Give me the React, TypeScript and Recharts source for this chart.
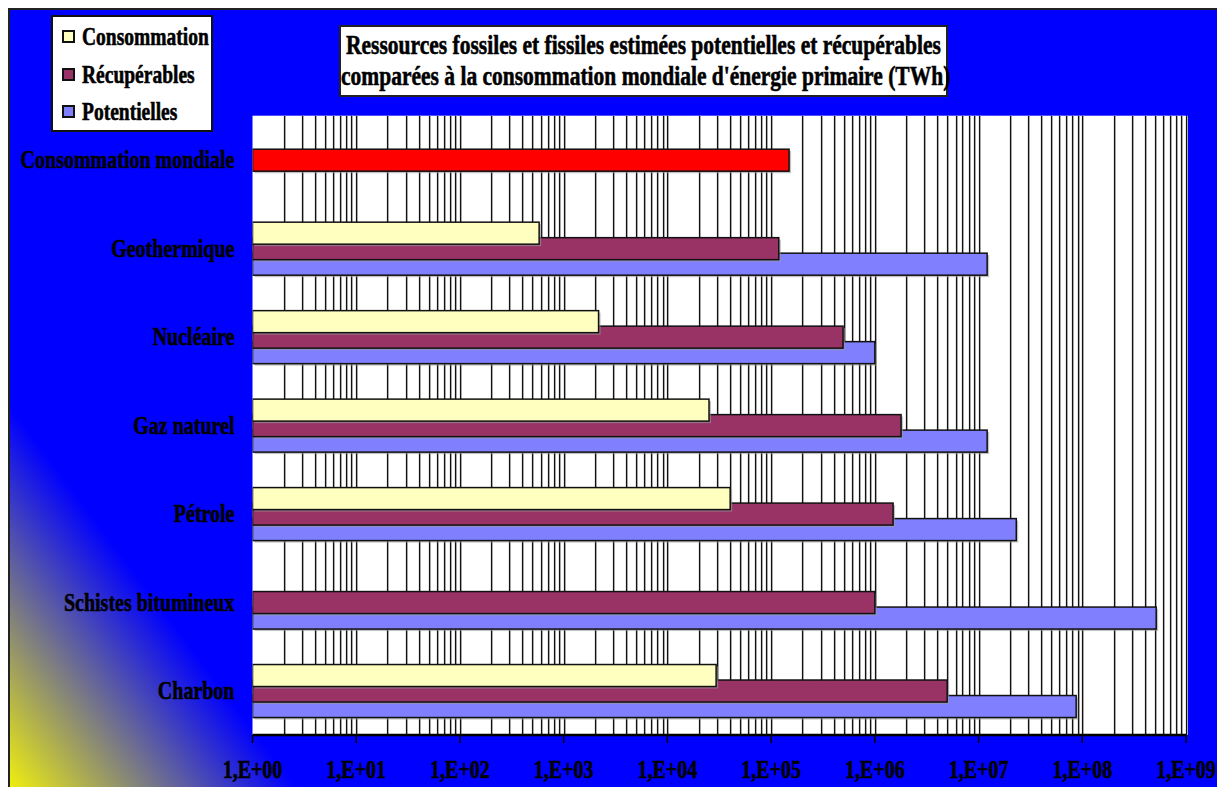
import { BarChart, Bar, XAxis, YAxis, CartesianGrid, Cell, Legend } from "recharts";

// TWh, top to bottom
const categories = [
  "Consommation mondiale",
  "Geothermique",
  "Nucléaire",
  "Gaz naturel",
  "Pétrole",
  "Schistes bitumineux",
  "Charbon",
];
const consommation = [null, 580, 2170, 25200, 40300, null, 29500];
const recuperables = [149000, 118600, 494000, 1790000, 1500000, 1000000, 4980000];
const potentielles = [null, 12100000, 1000000, 12100000, 23100000, 516000000, 87300000];

const seriesNames = ["Consommation", "Récupérables", "Potentielles"];

const decadeTicks = [1, 1e1, 1e2, 1e3, 1e4, 1e5, 1e6, 1e7, 1e8, 1e9];
const decadeLabels = [
  "1,E+00", "1,E+01", "1,E+02", "1,E+03", "1,E+04",
  "1,E+05", "1,E+06", "1,E+07", "1,E+08", "1,E+09",
];
const categoryEdges = [0, 1, 2, 3, 4, 5, 6, 7];

// log gridlines: 2..9 inside every decade, plus the decades themselves
const gridValues = decadeTicks
  .flatMap((d, i) =>
    i === decadeTicks.length - 1 ? [d] : [d, 2 * d, 3 * d, 4 * d, 5 * d, 6 * d, 7 * d, 8 * d, 9 * d]
  )
  .filter((v) => v > 1);

const data = categories.map((name, i) => ({
  name,
  consommation: consommation[i],
  recuperables: recuperables[i],
  potentielles: potentielles[i],
}));

const FONT = '"Liberation Serif", "Times New Roman", serif';
const STRETCH = 1.28;
const YELLOW = "#FFFFC0";
const PURPLE = "#993366";
const LILAC = "#8080FF";
const RED = "#FF0000";

const CategoryTick = (props: any) => {
  const { x, y, payload } = props;
  return (
    <g transform={`translate(${x},${y}) scale(1,${STRETCH})`}>
      <text
        x={0}
        y={0}
        dy="0.33em"
        textAnchor="end"
        fontFamily={FONT}
        fontWeight="bold"
        fontSize={20}
        fill="#000"
        stroke="#000"
        strokeWidth={0.45}
      >
        {payload.value}
      </text>
    </g>
  );
};

const DecadeTick = (props: any) => {
  const { x, y, payload, index } = props;
  return (
    <g transform={`translate(${x},${y}) scale(1,${STRETCH})`}>
      <text
        x={0}
        y={0}
        dy="0.66em"
        textAnchor="middle"
        fontFamily={FONT}
        fontWeight="bold"
        fontSize={20}
        fill="#000"
        stroke="#000"
        strokeWidth={0.45}
      >
        {decadeLabels[index] ?? payload.value}
      </text>
    </g>
  );
};

// dark line with a light grey edge on its right, snapped to the pixel grid
const GridLine = (props: any) => {
  const x = Math.round(props.x1);
  return (
    <g key={props.key}>
      <line x1={x + 1.5} y1={props.y1} x2={x + 1.5} y2={props.y2} stroke="#b8b8b8" strokeWidth={1} />
      <line x1={x + 0.5} y1={props.y1} x2={x + 0.5} y2={props.y2} stroke="#111" strokeWidth={1.2} />
    </g>
  );
};

// bar with a soft drop shadow
const ShadowBar = (props: any) => {
  const { x, y, width, height, fill } = props;
  if (!width || !height) return null;
  return (
    <g>
      <rect x={x + 2} y={y + 2} width={width} height={height} fill="#9a9a9a" opacity={0.6} />
      <rect x={x} y={y} width={width} height={height} fill={fill} stroke="#111" strokeWidth={1.5} />
    </g>
  );
};

const LegendBox = (props: any) => {
  const { payload = [] } = props;
  const items = [...payload].sort(
    (a: any, b: any) => seriesNames.indexOf(a.value) - seriesNames.indexOf(b.value)
  );
  return (
    <div
      style={{
        background: "#fff",
        border: "2px solid #111",
        boxSizing: "border-box",
        width: 162,
        height: 117,
        paddingTop: 1,
        fontFamily: FONT,
      }}
    >
      {items.map((p: any) => (
        <div key={p.value} style={{ display: "flex", alignItems: "center", height: 37.5 }}>
          <span
            style={{
              display: "inline-block",
              width: 9,
              height: 9,
              marginLeft: 9,
              marginRight: 7,
              background: p.color,
              border: "2px solid #111",
            }}
          />
          <span
            style={{
              display: "inline-block",
              fontWeight: "bold",
              fontSize: 19.5,
              color: "#000",
              transform: `scaleY(${STRETCH})`,
              lineHeight: 1,
              WebkitTextStroke: "0.45px #000",
            }}
          >
            {p.value}
          </span>
        </div>
      ))}
    </div>
  );
};

export default function App() {
  return (
    <div
      style={{
        position: "fixed",
        left: 8,
        top: 8,
        width: 1209,
        height: 779,
        boxSizing: "border-box",
        borderLeft: "2px solid #222",
        borderTop: "2px solid #222",
        background: "linear-gradient(53deg, #eeee10 0%, #0000ff 16%, #0000ff 100%)",
        overflow: "hidden",
      }}
    >
      <BarChart
        width={1207}
        height={777}
        data={data}
        layout="vertical"
        barSize={22}
        barGap={-6.5}
        margin={{ top: 105.7, right: 31, bottom: 12, left: 10 }}
      >
        <CartesianGrid
          xAxisId={0}
          yAxisId="edges"
          fill="#fff"
          stroke="#333"
          strokeWidth={1}
          verticalValues={gridValues}
          horizontalValues={[0]}
          vertical={GridLine}
        />
        <XAxis
          type="number"
          scale="log"
          domain={[1, 1e9]}
          allowDataOverflow
          ticks={decadeTicks}
          interval={0}
          height={40}
          axisLine={{ stroke: "#000", strokeWidth: 2.5 }}
          tickLine={{ stroke: "#000", strokeWidth: 1.5 }}
          tickSize={8}
          tickMargin={18}
          tick={<DecadeTick />}
        />
        <YAxis
          yAxisId="edges"
          type="number"
          domain={[0, 7]}
          reversed
          allowDataOverflow
          ticks={categoryEdges}
          interval={0}
          width={0}
          tick={false}
          tickSize={8}
          axisLine={{ stroke: "#333", strokeWidth: 1.5 }}
          tickLine={{ stroke: "#000", strokeWidth: 2 }}
        />
        <YAxis
          yAxisId="cat"
          type="category"
          dataKey="name"
          width={232.5}
          axisLine={false}
          tickLine={false}
          tickSize={8}
          tickMargin={10}
          interval={0}
          tick={<CategoryTick />}
        />
        <Legend
          layout="vertical"
          align="center"
          verticalAlign="middle"
          wrapperStyle={{ left: 41, top: 5, width: 162, height: 117 }}
          content={<LegendBox />}
        />
        <Bar
          yAxisId="cat"
          dataKey="consommation"
          name={seriesNames[0]}
          fill={YELLOW}
          shape={ShadowBar}
          isAnimationActive={false}
          zIndex={302}
        />
        <Bar
          yAxisId="cat"
          dataKey="recuperables"
          name={seriesNames[1]}
          fill={PURPLE}
          shape={ShadowBar}
          isAnimationActive={false}
          zIndex={301}
        >
          {recuperables.map((_, i) => (
            <Cell key={i} fill={i === 0 ? RED : PURPLE} />
          ))}
        </Bar>
        <Bar
          yAxisId="cat"
          dataKey="potentielles"
          name={seriesNames[2]}
          fill={LILAC}
          shape={ShadowBar}
          isAnimationActive={false}
          zIndex={300}
        />
      </BarChart>
      <div
        style={{
          position: "absolute",
          left: 329,
          top: 15,
          width: 609,
          height: 72,
          boxSizing: "border-box",
          background: "#fff",
          border: "2px solid #222",
          fontFamily: FONT,
          fontWeight: "bold",
          fontSize: 21.5,
          color: "#000",
          textAlign: "center",
          display: "flex",
          flexDirection: "column",
          justifyContent: "center",
          lineHeight: "31px",
          whiteSpace: "nowrap",
          WebkitTextStroke: "0.45px #000",
        }}
      >
        <div style={{ transform: `scaleY(${STRETCH})` }}>
          Ressources fossiles et fissiles estimées potentielles et récupérables
        </div>
        <div style={{ transform: `scaleY(${STRETCH})` }}>
          comparées à la consommation mondiale d'énergie primaire (TWh)
        </div>
      </div>
    </div>
  );
}
